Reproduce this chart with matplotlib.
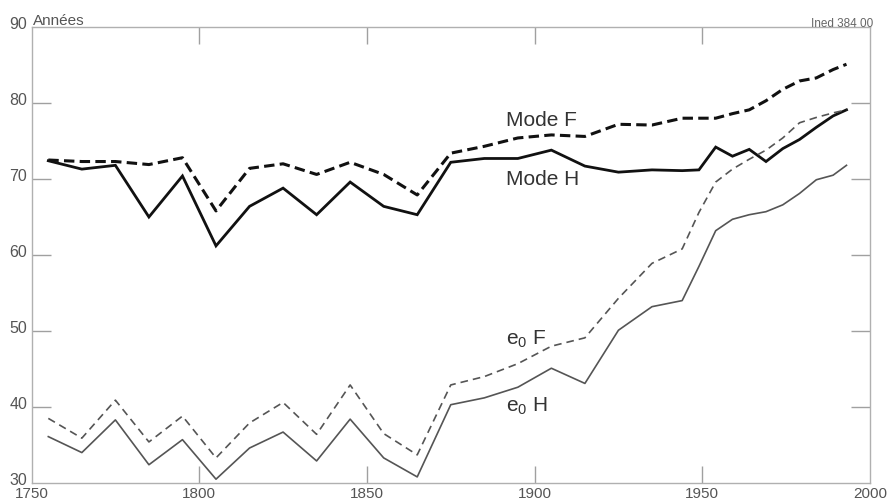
import matplotlib
matplotlib.use("Agg")
import matplotlib.pyplot as plt
import matplotlib.transforms as mtransforms

plt.rcParams['font.family'] = ['Liberation Sans', 'DejaVu Sans']
plt.rcParams['mathtext.fontset'] = 'custom'
plt.rcParams['mathtext.rm'] = 'Liberation Sans'
plt.rcParams['mathtext.default'] = 'regular'
plt.rcParams['lines.scale_dashes'] = False

# ---- data ----
years = [1755, 1765, 1775, 1785, 1795, 1805, 1815, 1825, 1835, 1845,
         1855, 1865, 1875, 1885, 1895, 1905, 1915, 1925, 1935, 1944,
         1949, 1954, 1959, 1964, 1969, 1974, 1979, 1984, 1989, 1993]

mode_h = [72.4, 71.3, 71.8, 65.0, 70.4, 61.2, 66.4, 68.8, 65.3, 69.6,
          66.4, 65.3, 72.2, 72.7, 72.7, 73.8, 71.7, 70.9, 71.2, 71.1,
          71.2, 74.2, 73.0, 73.9, 72.3, 74.0, 75.2, 76.8, 78.3, 79.1]

mode_f = [72.5, 72.3, 72.3, 71.9, 72.8, 65.8, 71.4, 72.0, 70.6, 72.2,
          70.6, 67.9, 73.4, 74.3, 75.4, 75.8, 75.6, 77.2, 77.1, 78.0,
          78.0, 78.0, 78.6, 79.1, 80.3, 81.8, 82.9, 83.3, 84.4, 85.1]

e0_f = [38.5, 35.9, 40.9, 35.4, 38.8, 33.3, 37.9, 40.6, 36.4, 42.9,
        36.5, 33.7, 42.9, 44.0, 45.7, 48.0, 49.1, 54.3, 58.9, 60.8,
        65.6, 69.6, 71.3, 72.6, 73.8, 75.4, 77.4, 78.1, 78.7, 79.1]

e0_h = [36.1, 34.0, 38.3, 32.4, 35.7, 30.5, 34.6, 36.7, 32.9, 38.4,
        33.3, 30.8, 40.3, 41.2, 42.6, 45.1, 43.1, 50.1, 53.2, 54.0,
        58.5, 63.2, 64.7, 65.3, 65.7, 66.6, 68.1, 69.9, 70.5, 71.8]

x_ticks = [1750, 1800, 1850, 1900, 1950, 2000]
y_ticks = [30, 40, 50, 60, 70, 80, 90]

series_labels = ["Mode F", "Mode H", "e$_0$ F", "e$_0$ H"]

# ---- figure ----
fig = plt.figure(figsize=(8.91, 5.03), dpi=100)
ax = fig.add_axes([0.0354, 0.0398, 0.9410, 0.9065])

ax.plot(years, mode_f, color='#111111', lw=2.2, ls=(0, (7.5, 3.8)),
        solid_capstyle='butt', dash_capstyle='butt')
ax.plot(years, mode_h, color='#111111', lw=2.0, solid_joinstyle='miter')
ax.plot(years, e0_f, color='#555555', lw=1.2, ls=(0, (5.5, 3.6)))
ax.plot(years, e0_h, color='#555555', lw=1.2)

ax.set_xlim(1750, 2000)
ax.set_ylim(30, 90)

ax.set_xticks(x_ticks)
ax.set_yticks(y_ticks)
ax.set_xticklabels([str(v) for v in x_ticks])
ax.set_yticklabels([str(v) for v in y_ticks])

for s in ax.spines.values():
    s.set_color('#b0b0b0')
    s.set_linewidth(1.0)

ax.tick_params(axis='x', direction='in', length=12, width=1.0, color='#a0a0a0',
               top=True, bottom=True, labelsize=11, labelcolor='#555555', pad=3.2)
ax.tick_params(axis='y', direction='in', length=14, width=1.0, color='#a0a0a0',
               left=True, right=True, labelsize=11.5, labelcolor='#555555', pad=3)

# shift y tick labels slightly upward (as in the reference)
up = mtransforms.ScaledTranslation(0, 4 / 100, fig.dpi_scale_trans)
for lbl in ax.get_yticklabels():
    lbl.set_transform(lbl.get_transform() + up)

# hide tick marks that coincide with spines
for t in ax.xaxis.get_major_ticks():
    if t.get_loc() in (1750, 2000):
        t.tick1line.set_visible(False)
        t.tick2line.set_visible(False)
for t in ax.yaxis.get_major_ticks():
    if t.get_loc() in (30, 90):
        t.tick1line.set_visible(False)
        t.tick2line.set_visible(False)

# series labels
lab_kw = dict(fontsize=15, color='#333333', ha='left', va='center')
ax.text(1891.5, 77.7, series_labels[0], **lab_kw)
ax.text(1891.5, 69.9, series_labels[1], **lab_kw)
ax.text(1891.5, 48.9, series_labels[2], **lab_kw)
ax.text(1891.5, 40.1, series_labels[3], **lab_kw)

# header texts
fig.text(33 / 891, 1 - 21 / 503, "Années", fontsize=11, color='#555555',
         ha='left', va='center')
fig.text(873 / 891, 1 - 24 / 503, "Ined 384 00", fontsize=8.5, color='#666666',
         ha='right', va='center')

fig.savefig("out.png", dpi=100)
